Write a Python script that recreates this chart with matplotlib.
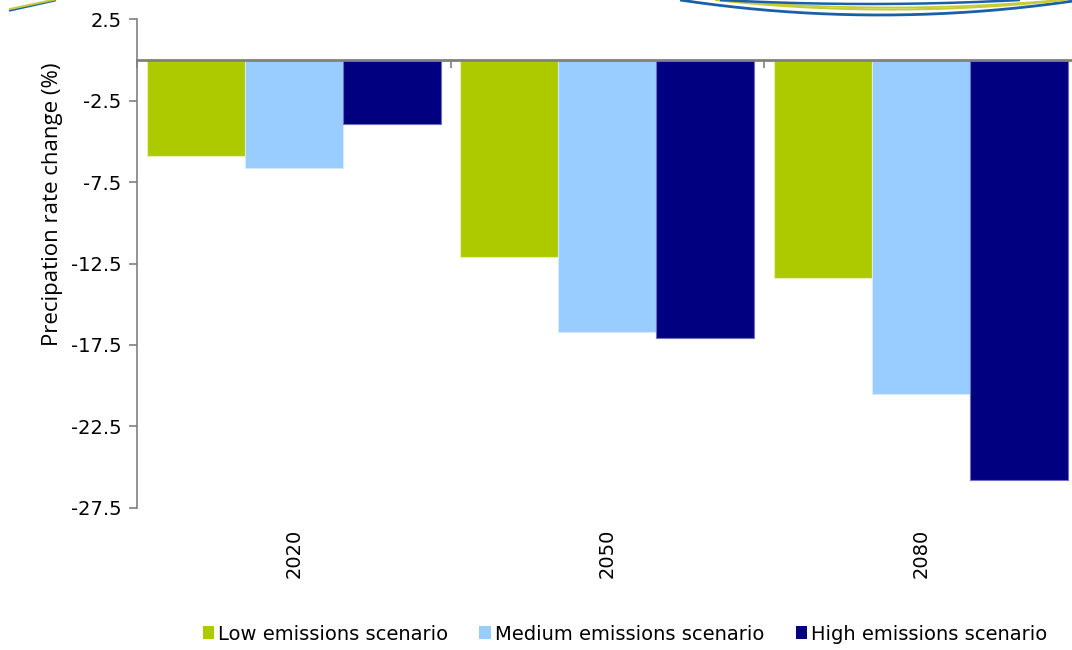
import numpy as np
import matplotlib
matplotlib.use("Agg")
import matplotlib.pyplot as plt
from matplotlib.patches import Patch

# Werte
years = ["2020", "2050", "2080"]
low = [-5.9, -12.1, -13.4]
medium = [-6.6, -16.7, -20.5]
high = [-3.9, -17.1, -25.8]
series_names = ["Low emissions scenario", "Medium emissions scenario", "High emissions scenario"]
colors = ["#adc900", "#99ccff", "#000080"]
edges = ["#e6f0b0", "#d6eaff", "#6f6fc0"]
yticks = [2.5, -2.5, -7.5, -12.5, -17.5, -22.5, -27.5]

plt.rcParams['font.family'] = ['DejaVu Sans']

W, H = 1072, 650
fig = plt.figure(figsize=(W / 100, H / 100), dpi=100)
ax = fig.add_axes([137 / W, 1 - 507.7 / H, 940.5 / W, 488.2 / H])

x = np.arange(len(years))
w = 0.3125
for i, vals in enumerate([low, medium, high]):
    ax.bar(x + (i - 1) * w, vals, width=w, color=colors[i], edgecolor=edges[i],
           linewidth=0.8, label=series_names[i], zorder=2)

ax.set_xlim(-0.5, 2.5)
ax.set_ylim(-27.5, 2.5)
ax.set_yticks(yticks)
ax.set_yticklabels([f"{t:g}" for t in yticks], fontsize=14)

# x-Achse bei 0, Beschriftung unten
ax.spines['top'].set_visible(False)
ax.spines['right'].set_visible(False)
ax.spines['bottom'].set_position(('data', 0))
ax.spines['bottom'].set_color('#808080')
ax.spines['bottom'].set_linewidth(2)
ax.spines['bottom'].set_zorder(3)
ax.spines['left'].set_color('#808080')
ax.spines['left'].set_linewidth(1.2)

ax.set_xticks([-0.5, 0.5, 1.5, 2.5])
ax.set_xticklabels([])
ax.tick_params(axis='x', direction='out', length=6, color='#808080', width=1.2)
ax.tick_params(axis='y', direction='out', length=6, color='#808080', width=1.2, pad=5)

for xi, yr in zip(x, years):
    ax.text(xi, -28.8, yr, rotation=90, ha='center', va='top', fontsize=14)

fig.text(53 / W, 1 - 204 / H, "Precipation rate change (%)", rotation=90,
         ha='center', va='center', fontsize=16, family=['Open Sans', 'DejaVu Sans'])

handles = [Patch(facecolor=c, edgecolor='none') for c in colors]
fig.legend(handles, series_names, loc='center', bbox_to_anchor=(625 / W, 1 - 634 / H),
           ncol=3, frameon=False, fontsize=14, handlelength=0.6, handleheight=0.6,
           handletextpad=0.2, columnspacing=1.6)

# Dekorative Schwünge oben (Rest des Banners), in Pixelkoordinaten
def swoosh(xc, ymin, hw, x0, x1, color, lw):
    xs = np.linspace(x0, x1, 200)
    ys = ymin * (1 - ((xs - xc) / hw) ** 2)
    fig.add_artist(plt.Line2D(xs / W, 1 - ys / H, transform=fig.transFigure,
                              color=color, lw=lw, solid_capstyle='butt'))

swoosh(880, 15, 200, 680, 1072, '#1a5fa8', 2.0)
swoosh(890, 9.5, 175, 715, 1065, '#c5cc3a', 1.5)
swoosh(890, 7.5, 170, 720, 1060, '#c5cc3a', 1.3)
swoosh(870, 4, 150, 720, 1020, '#1a5fa8', 1.8)

xs = np.linspace(10, 55, 50)
fig.add_artist(plt.Line2D(xs / W, 1 - (10.5 - (xs - 10) * 10 / 45) / H, transform=fig.transFigure,
                          color='#1a5fa8', lw=1.5))
fig.add_artist(plt.Line2D(xs / W, 1 - (9 - (xs - 10) * 9.5 / 45) / H, transform=fig.transFigure,
                          color='#c5cc3a', lw=1.5))

fig.savefig("out.png", dpi=100)
